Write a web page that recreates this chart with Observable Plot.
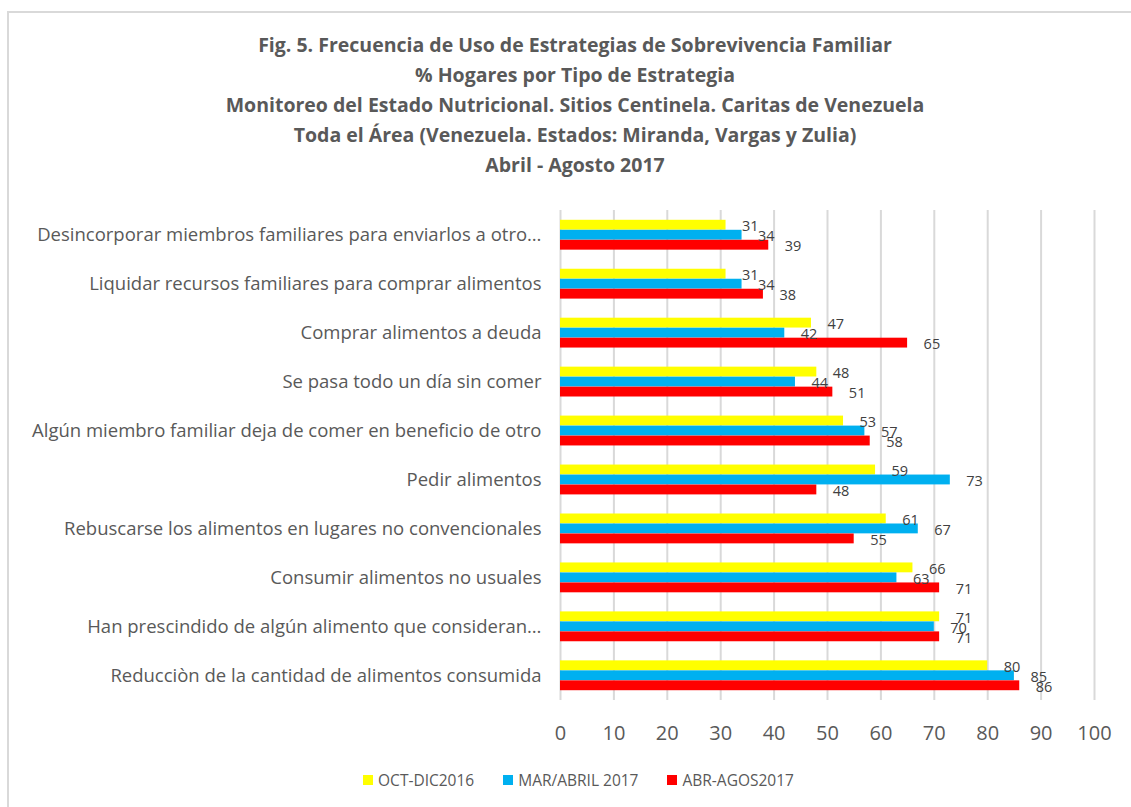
<!DOCTYPE html>
<html><head><meta charset="utf-8">
<script src="https://cdn.jsdelivr.net/npm/d3@7"></script>
<script src="https://cdn.jsdelivr.net/npm/@observablehq/plot@0.6"></script>
<style>
body{margin:0;background:#fff;font-family:"Open Sans",sans-serif;overflow:hidden;}
#frame{position:absolute;left:7px;top:11px;width:1200px;height:900px;border-left:2px solid #d9d9d9;border-top:2px solid #d9d9d9;box-sizing:border-box;}
#title{position:absolute;left:0;width:1150px;top:30px;text-align:center;font-weight:bold;font-size:19.5px;line-height:30px;color:#595959;}
#chart{position:absolute;left:0;top:190px;}
#chart g[aria-label="x-axis tick label"]{font-size:20px;}
#legend{position:absolute;top:770px;left:0;width:1157px;display:flex;justify-content:center;gap:29px;font-size:15.5px;color:#595959;line-height:20px;}
#legend .item{display:flex;align-items:center;gap:5px;}
#legend .sw{width:10px;height:10px;display:inline-block;}
</style>
</head><body>
<div id="frame"></div>
<div id="title"></div>
<div id="chart"></div>
<div id="legend"></div>
<script>
const titleLines = [
  "Fig. 5. Frecuencia de Uso de Estrategias de Sobrevivencia Familiar",
  "% Hogares por Tipo de Estrategia",
  "Monitoreo del Estado Nutricional. Sitios Centinela. Caritas de Venezuela",
  "Toda el Área (Venezuela. Estados: Miranda, Vargas y Zulia)",
  "Abril - Agosto 2017"
];
const categories = [
  "Desincorporar miembros familiares para enviarlos a otro…",
  "Liquidar recursos familiares para comprar alimentos",
  "Comprar alimentos a deuda",
  "Se pasa todo un día sin comer",
  "Algún miembro familiar deja de comer en beneficio de otro",
  "Pedir alimentos",
  "Rebuscarse los alimentos en lugares no convencionales",
  "Consumir alimentos no usuales",
  "Han prescindido de algún alimento que consideran…",
  "Reducciòn de la cantidad de alimentos consumida"
];
const seriesNames = ["OCT-DIC2016", "MAR/ABRIL 2017", "ABR-AGOS2017"];
const seriesColors = ["#FFFF00", "#00B0F0", "#FF0000"];
const octDic2016 = [31, 31, 47, 48, 53, 59, 61, 66, 71, 80];
const marAbril2017 = [34, 34, 42, 44, 57, 73, 67, 63, 70, 85];
const abrAgos2017 = [39, 38, 65, 51, 58, 48, 55, 71, 71, 86];
const xTicks = [0, 10, 20, 30, 40, 50, 60, 70, 80, 90, 100];

document.getElementById("title").innerHTML = titleLines.map(t => `<div>${t}</div>`).join("");

const seriesValues = [octDic2016, marAbril2017, abrAgos2017];
const seriesRows = seriesValues.map((vals, k) =>
  categories.map((c, i) => ({category: c, value: vals[i], series: seriesNames[k]})));

const marks = [Plot.ruleX(xTicks, {stroke: "#d9d9d9", strokeWidth: 2})];
seriesRows.forEach((rows, k) => {
  marks.push(Plot.barX(rows, {
    x: "value", y: "category", fill: seriesColors[k],
    insetTop: k * 10, insetBottom: (2 - k) * 10
  }));
});
seriesRows.forEach((rows, k) => {
  marks.push(Plot.text(rows, {
    x: "value", y: "category", text: d => String(d.value),
    dx: 16, dy: (k - 1) * 10 + 1.5, textAnchor: "start",
    fontSize: 14.5, fill: "#404040"
  }));
});

const chart = Plot.plot({
  width: 1131,
  height: 570,
  marginTop: 20,
  marginBottom: 60,
  marginLeft: 560,
  marginRight: 37,
  style: {fontFamily: "Open Sans", fontSize: "18.5px", color: "#595959", background: "transparent"},
  x: {domain: [0, 100], ticks: xTicks, tickSize: 0, tickPadding: 25, label: null, tickFormat: d => String(d)},
  y: {domain: categories, paddingInner: 0.39, paddingOuter: 0.2, round: false, tickSize: 0, tickPadding: 19, label: null},
  marks
});
document.getElementById("chart").appendChild(chart);

document.getElementById("legend").innerHTML = seriesNames.map((n, k) =>
  `<div class="item"><span class="sw" style="background:${seriesColors[k]}"></span><span>${n}</span></div>`).join("");
</script>
</body></html>
